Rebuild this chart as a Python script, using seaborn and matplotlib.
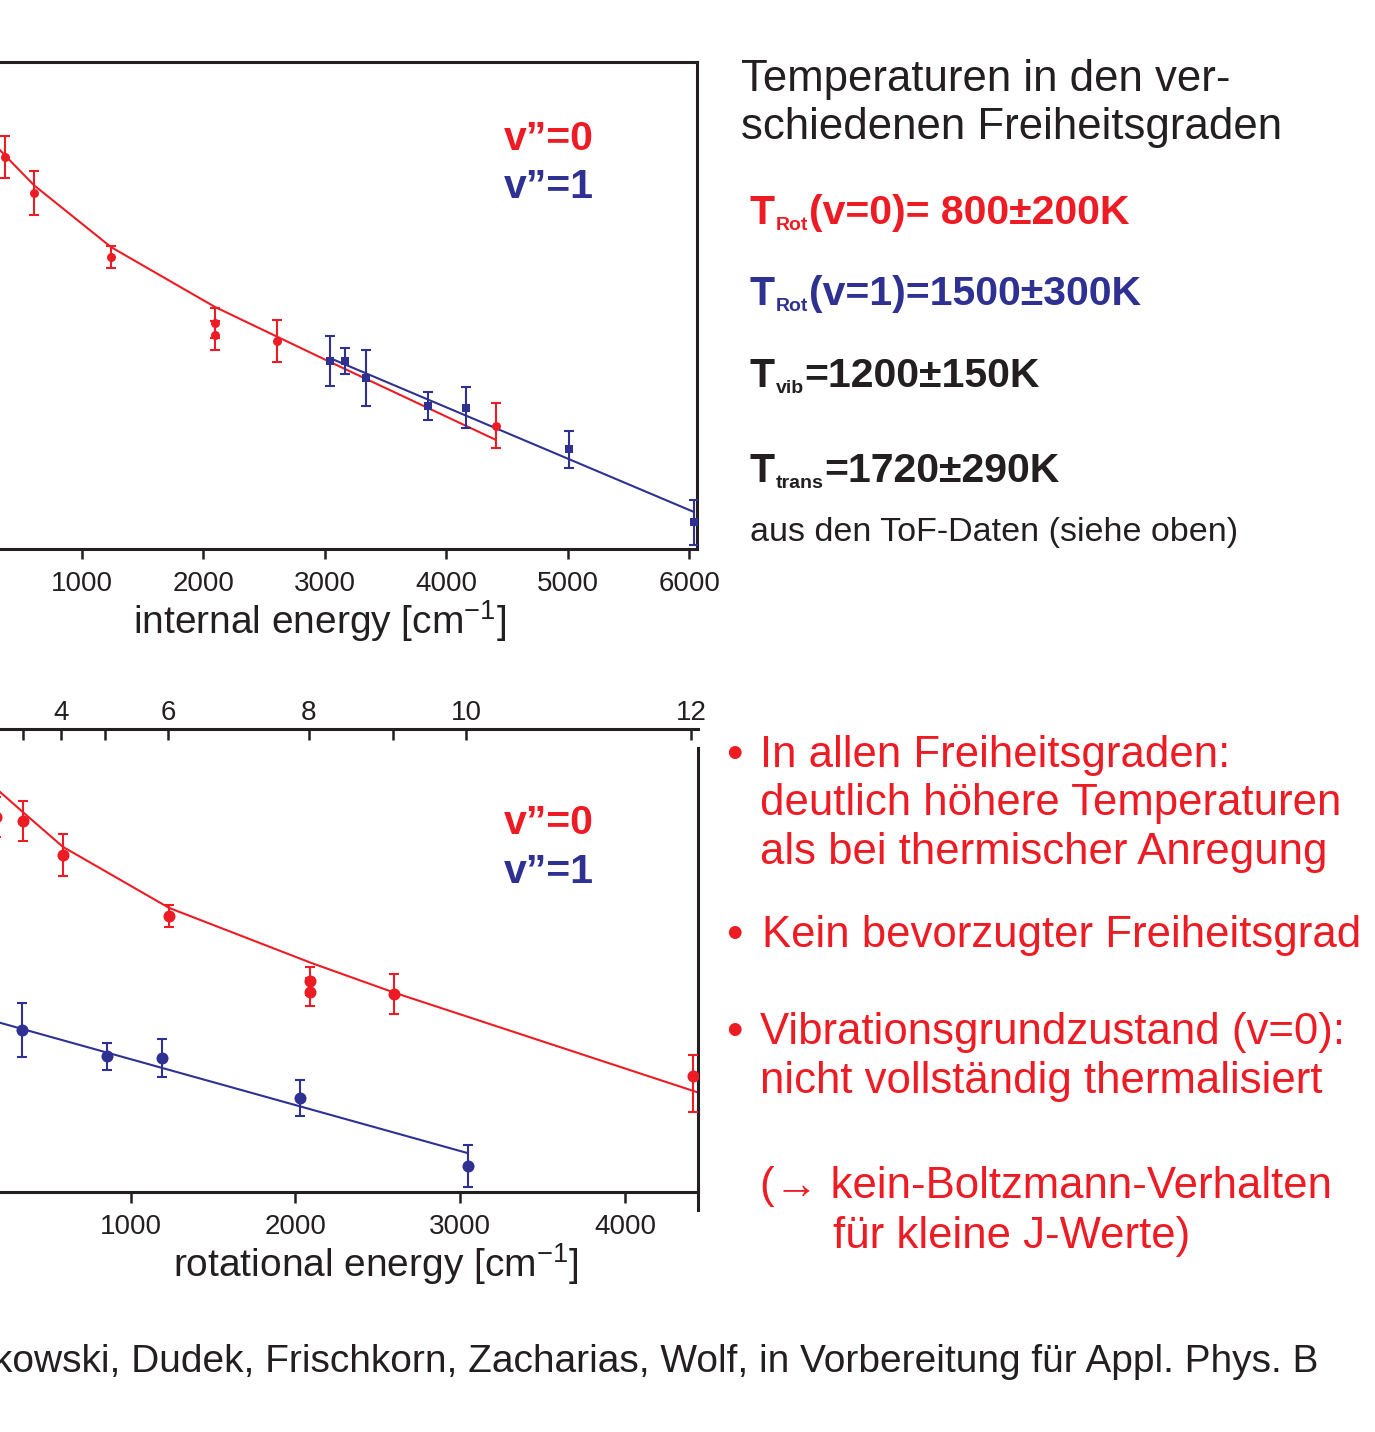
import matplotlib
matplotlib.use("Agg")
import matplotlib.pyplot as plt
import seaborn as sns

# ---------------- data: upper panel (internal energy) ----------------
int_v0_energy = [366, 605, 1239, 2095, 2095, 2605, 4407]
int_v0_pop = [8.05, 7.31, 6.00, 4.64, 4.39, 4.27, 2.53]
int_v0_err = [0.43, 0.45, 0.23, 0.30, 0.30, 0.44, 0.46]

int_v1_energy = [3041, 3165, 3337, 3848, 4160, 5008, 6037]
int_v1_pop = [3.86, 3.86, 3.51, 2.94, 2.90, 2.05, 0.55]
int_v1_err = [0.52, 0.26, 0.58, 0.29, 0.42, 0.38, 0.46]

int_fit_v0_energy = [0, 325, 605, 1239, 2095, 3008, 4407]
int_fit_v0_pop = [9.01, 8.19, 7.47, 6.20, 4.97, 3.88, 2.24]
int_fit_v1_energy = [3041, 6037]
int_fit_v1_pop = [3.92, 0.76]

int_ticks = [1000, 2000, 3000, 4000, 5000, 6000]

# ---------------- data: lower panel (rotational energy) ----------------
rot_v0_energy = [185, 350, 590, 1235, 2090, 2090, 2600, 4410]
rot_v0_pop = [8.51, 8.42, 7.68, 6.36, 4.96, 4.72, 4.68, 2.90]
rot_v0_err_lo = [0.43, 0.43, 0.46, 0.24, 0.30, 0.30, 0.43, 0.78]
rot_v0_err_hi = [0.43, 0.43, 0.46, 0.24, 0.30, 0.30, 0.43, 0.45]

rot_v1_energy = [341, 857, 1190, 2027, 3046]
rot_v1_pop = [3.90, 3.33, 3.29, 2.42, 0.95]
rot_v1_err = [0.58, 0.29, 0.42, 0.39, 0.45]

rot_fit_v0_energy = [0, 208, 354, 590, 1233, 2094, 2603, 4453]
rot_fit_v0_pop = [9.72, 9.05, 8.59, 7.86, 6.54, 5.35, 4.70, 2.53]
rot_fit_v1_energy = [0, 3046]
rot_fit_v1_pop = [4.26, 1.23]

rot_ticks = [1000, 2000, 3000, 4000]
j_tick_energy = [346, 578, 845, 1227, 2082, 2591, 3034, 4398]
j_tick_labels = ["", "4", "", "6", "8", "", "10", "12"]

# ---------------- style ----------------
RED = "#ED1C24"
BLUE = "#2E3192"
BLACK = "#231F20"

sns.set_theme(style="white")
plt.rcParams["font.family"] = ["Liberation Sans", "DejaVu Sans"]
plt.rcParams["mathtext.fontset"] = "custom"
plt.rcParams["mathtext.rm"] = "Liberation Sans"
plt.rcParams["mathtext.it"] = "Liberation Sans:italic"
plt.rcParams["mathtext.bf"] = "Liberation Sans:bold"
plt.rcParams["text.color"] = BLACK

W, H = 1375, 1432
fig = plt.figure(figsize=(W / 100, H / 100), dpi=100)
fig.patch.set_facecolor("white")


def rect(left, top, right, bottom):
    return [left / W, 1 - bottom / H, (right - left) / W, (bottom - top) / H]


SPINE_W = 2.2

# ---------------- upper panel ----------------
ax1 = fig.add_axes(rect(-80, 62, 697, 549))
ax1.set_facecolor("white")
sns.lineplot(x=int_fit_v0_energy, y=int_fit_v0_pop, ax=ax1, color=RED,
             linewidth=1.5, sort=False, estimator=None, zorder=2)
sns.lineplot(x=int_fit_v1_energy, y=int_fit_v1_pop, ax=ax1, color=BLUE,
             linewidth=1.5, sort=False, estimator=None, zorder=2)
ax1.errorbar(int_v0_energy, int_v0_pop, yerr=int_v0_err, fmt="none",
             ecolor=RED, elinewidth=1.5, capsize=3.8, capthick=1.5, zorder=3)
ax1.errorbar(int_v1_energy, int_v1_pop, yerr=int_v1_err, fmt="none",
             ecolor=BLUE, elinewidth=1.5, capsize=3.8, capthick=1.5, zorder=3)
sns.scatterplot(x=int_v0_energy, y=int_v0_pop, ax=ax1, color=RED, marker="o",
                s=42, linewidth=0, zorder=4)
sns.scatterplot(x=int_v1_energy, y=int_v1_pop, ax=ax1, color=BLUE, marker="s",
                s=34, linewidth=0, zorder=4)
ax1.set_xlim(-333, 6062)
ax1.set_ylim(0, 10)
ax1.set_yticks([])
ax1.set_xticks(int_ticks)
ax1.tick_params(axis="x", direction="out", length=7, width=1.8, pad=9,
                labelsize=20, colors=BLACK, bottom=True, top=False)
for s in ["top", "right", "bottom"]:
    ax1.spines[s].set_visible(True)
    ax1.spines[s].set_linewidth(SPINE_W)
    ax1.spines[s].set_color(BLACK)
ax1.spines["left"].set_visible(False)
ax1.set_xlabel("internal energy [cm$^{-1}$]", fontsize=28, color=BLACK)
ax1.xaxis.label.set_va("baseline")
ax1.xaxis.set_label_coords(320 / W, 1 - 634 / H, transform=fig.transFigure)
ax1.set_ylabel("")

# ---------------- lower panel ----------------
ax2 = fig.add_axes(rect(-80, 748, 698, 1210))
ax2.set_facecolor("white")
sns.lineplot(x=rot_fit_v0_energy, y=rot_fit_v0_pop, ax=ax2, color=RED,
             linewidth=1.5, sort=False, estimator=None, zorder=2)
sns.lineplot(x=rot_fit_v1_energy, y=rot_fit_v1_pop, ax=ax2, color=BLUE,
             linewidth=1.5, sort=False, estimator=None, zorder=2)
ax2.errorbar(rot_v0_energy, rot_v0_pop, yerr=[rot_v0_err_lo, rot_v0_err_hi],
             fmt="none", ecolor=RED, elinewidth=1.5, capsize=3.4, capthick=1.5,
             zorder=3)
ax2.errorbar(rot_v1_energy, rot_v1_pop, yerr=rot_v1_err, fmt="none",
             ecolor=BLUE, elinewidth=1.5, capsize=3.4, capthick=1.5, zorder=3)
sns.scatterplot(x=rot_v0_energy, y=rot_v0_pop, ax=ax2, color=RED, marker="o",
                s=75, linewidth=0, zorder=4)
sns.scatterplot(x=rot_v1_energy, y=rot_v1_pop, ax=ax2, color=BLUE, marker="o",
                s=75, linewidth=0, zorder=4)
ax2.set_xlim(-277, 4441)
ax2.set_ylim(0, 10)
ax2.set_yticks([])
ax2.set_xticks(rot_ticks)
ax2.tick_params(axis="x", direction="out", length=8, width=1.8, pad=8,
                labelsize=20, colors=BLACK, bottom=True, top=False)
ax2.spines["top"].set_visible(False)
ax2.spines["left"].set_visible(False)
for s in ["right", "bottom"]:
    ax2.spines[s].set_visible(True)
    ax2.spines[s].set_linewidth(SPINE_W)
    ax2.spines[s].set_color(BLACK)
ax2.spines["bottom"].set_position(("outward", -18 * 0.72))
ax2.set_xlabel("rotational energy [cm$^{-1}$]", fontsize=28, color=BLACK)
ax2.xaxis.label.set_va("baseline")
ax2.xaxis.set_label_coords(376 / W, 1 - 1277 / H, transform=fig.transFigure)
ax2.set_ylabel("")

sec = ax2.secondary_xaxis(1 + 19 / 462, functions=(lambda e: e, lambda e: e))
sec.set_xticks(j_tick_energy, labels=j_tick_labels)
sec.tick_params(direction="in", length=8, width=1.8, pad=2, labelsize=20,
                colors=BLACK)
for s in sec.spines.values():
    s.set_linewidth(SPINE_W)
    s.set_color(BLACK)

# ---------------- overlay for slide text (pixel coordinates) ----------------
ov = fig.add_axes([0, 0, 1, 1], zorder=10)
ov.set_xlim(0, W)
ov.set_ylim(H, 0)
ov.axis("off")
ov.patch.set_alpha(0)

# state labels inside the panels
for (ytop, ybot) in [(150, 198), (834, 883)]:
    ov.text(504, ytop, "v\u201d=0", color=RED, fontsize=29.5, fontweight="bold",
            va="baseline", ha="left")
    ov.text(504, ybot, "v\u201d=1", color=BLUE, fontsize=29.5, fontweight="bold",
            va="baseline", ha="left")

# upper right text
ov.text(741, 91, "Temperaturen in den ver-", fontsize=31.5, va="baseline")
ov.text(741, 139, "schiedenen Freiheitsgraden", fontsize=31.5, va="baseline")


def temp_line(x, y, sub, rest, color, size=29.5, subsize=14):
    t1 = ov.text(x, y, "T", color=color, fontsize=size, fontweight="bold",
                 va="baseline", ha="left")
    t2 = ov.annotate(sub, xy=(1, 0), xycoords=t1, xytext=(0.5, 1.2),
                     textcoords="offset points", color=color, fontsize=subsize,
                     fontweight="bold", va="baseline", ha="left",
                     annotation_clip=False)
    ov.annotate(rest, xy=(1, 0), xycoords=(t2, t1), xytext=(0.3, 0),
                textcoords="offset points", color=color, fontsize=size,
                fontweight="bold", va="bottom", ha="left",
                annotation_clip=False)


temp_line(750, 224, "Rot", "(v=0)= 800\u00b1200K", RED)
temp_line(750, 305, "Rot", "(v=1)=1500\u00b1300K", BLUE)
temp_line(750, 387, "vib", "=1200\u00b1150K", BLACK)
temp_line(750, 482, "trans", "=1720\u00b1290K", BLACK)
ov.text(750, 541, "aus den ToF-Daten (siehe oben)", fontsize=24.5, va="baseline")

# lower right bullet text
for by in [768, 948, 1045]:
    ov.text(726, by, "\u2022", color=RED, fontsize=34, va="baseline")
bullet_lines = [
    (760, 767, "In allen Freiheitsgraden:"),
    (760, 815, "deutlich höhere Temperaturen"),
    (760, 864, "als bei thermischer Anregung"),
    (762, 947, "Kein bevorzugter Freiheitsgrad"),
    (760, 1044, "Vibrationsgrundzustand (v=0):"),
    (760, 1093, "nicht vollständig thermalisiert"),
    (760, 1198, "(\u2192 kein-Boltzmann-Verhalten"),
    (833, 1248, "für kleine J-Werte)"),
]
for x, y, s in bullet_lines:
    ov.text(x, y, s, color=RED, fontsize=31.5, va="baseline", ha="left")

# citation (cut at the left edge, as on the slide)
ov.text(1318, 1372,
        "kowski, Dudek, Frischkorn, Zacharias, Wolf, in Vorbereitung für Appl. Phys. B",
        fontsize=28, va="baseline", ha="right")

fig.savefig("out.png", dpi=100, facecolor="white")
